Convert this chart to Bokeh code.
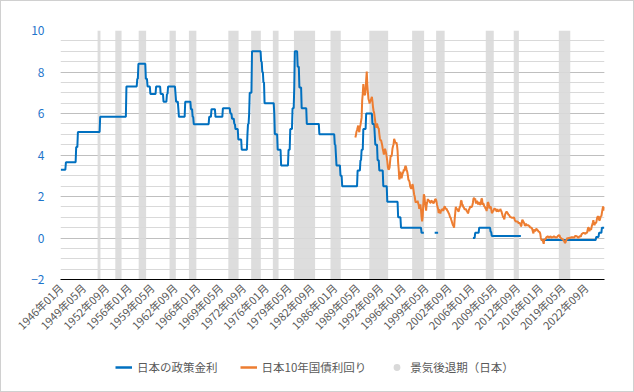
import math
import numpy as np
from bokeh.plotting import figure
from bokeh.layouts import column
from bokeh.models import Range1d, FixedTicker, Legend, LegendItem
from bokeh.embed import file_html
from bokeh.resources import INLINE

FONT = "Noto Sans CJK JP"

# ---- categories (monthly, 1946-01 .. 2025-05) ----
first_year, last_year, last_month = 1946, 2025, 5
months = [f"{y}年{m:02d}月" for y in range(first_year, last_year + 1) for m in range(1, 13)]
months = months[: months.index(f"{last_year}年{last_month:02d}月") + 1]

tick_step = 40  # one label every 40 months

series_names = ["日本の政策金利", "日本10年国債利回り", "景気後退期（日本）"]

# ---- 日本の政策金利: change points (None = no value / gap) ----
policy_change_month = [
    "1946-01", "1946-10", "1948-04", "1948-07", "1951-10", "1955-08", "1957-03", "1957-05",
    "1958-06", "1958-09", "1959-02", "1959-12", "1960-08", "1961-01", "1961-07", "1961-09",
    "1962-10", "1962-11", "1963-03", "1963-04", "1964-03", "1965-01", "1965-04", "1965-06",
    "1967-09", "1968-01", "1968-08", "1969-09", "1970-10", "1971-01", "1971-05", "1971-07",
    "1971-12", "1972-06", "1973-04", "1973-05", "1973-07", "1973-08", "1973-12", "1975-04",
    "1975-06", "1975-08", "1975-10", "1977-03", "1977-04", "1977-09", "1978-03", "1979-04",
    "1979-07", "1979-11", "1980-02", "1980-03", "1980-08", "1980-11", "1981-03", "1981-12",
    "1983-10", "1986-01", "1986-03", "1986-04", "1986-11", "1987-02", "1989-05", "1989-10",
    "1989-12", "1990-03", "1990-08", "1991-07", "1991-11", "1991-12", "1992-04", "1992-07",
    "1993-02", "1993-09", "1995-04", "1995-09", "1998-09", "1999-02", "2000-08", "2001-03",
    "2006-03", "2006-07", "2007-02", "2008-10", "2008-12", "2013-04", "2016-02", "2024-03",
    "2024-08", "2025-01",
]
policy_change_value = [
    3.29, 3.65, 4.38, 5.11, 5.84, 7.30, 7.67, 8.40,
    7.67, 7.30, 6.94, 7.30, 6.94, 6.57, 6.94, 7.30,
    6.94, 6.57, 6.21, 5.84, 6.57, 6.21, 5.84, 5.48,
    5.84, 6.21, 5.84, 6.25, 6.00, 5.75, 5.50, 5.25,
    4.75, 4.25, 5.00, 5.50, 6.00, 7.00, 9.00, 8.50,
    8.00, 7.50, 6.50, 6.00, 5.00, 4.25, 3.50, 4.25,
    5.25, 6.25, 7.25, 9.00, 8.25, 7.25, 6.25, 5.50,
    5.00, 4.50, 4.00, 3.50, 3.00, 2.50, 3.25, 3.75,
    4.25, 5.25, 6.00, 5.50, 5.00, 4.50, 3.75, 3.25,
    2.50, 1.75, 1.00, 0.50, 0.25, None, 0.25, None,
    0.00, 0.25, 0.50, 0.30, 0.10, None, -0.10, 0.05,
    0.25, 0.50,
]

# ---- 日本10年国債利回り: monthly from 1989-01 ----
jgb_start = "1989-01"
jgb10y = [
    4.84, 4.95, 5.12, 5.20, 5.31, 5.42, 5.18, 5.10, 5.33, 5.45, 5.62, 5.80,   # 1989
    6.62, 6.95, 7.42, 7.12, 6.92, 6.88, 7.15, 7.62, 8.02, 7.40, 7.02, 6.70,   # 1990
    6.62, 6.48, 6.60, 6.62, 6.72, 6.80, 6.58, 6.30, 6.12, 6.02, 5.80, 5.58,   # 1991
    5.32, 5.42, 5.52, 5.40, 5.30, 5.28, 5.02, 4.80, 4.70, 4.72, 4.60, 4.48,   # 1992
    4.30, 4.18, 4.02, 4.12, 4.30, 4.20, 4.08, 3.90, 3.70, 3.42, 3.30, 3.32,   # 1993
    3.40, 3.72, 4.00, 3.92, 4.02, 4.30, 4.42, 4.52, 4.78, 4.70, 4.60, 4.58,   # 1994
    4.60, 4.48, 4.20, 3.62, 3.30, 2.82, 2.92, 3.20, 3.00, 2.88, 3.02, 3.12,   # 1995
    3.18, 3.30, 3.22, 3.40, 3.48, 3.40, 3.28, 3.18, 3.02, 2.80, 2.78, 2.70,   # 1996
    2.50, 2.42, 2.38, 2.42, 2.60, 2.50, 2.30, 2.10, 2.00, 1.80, 1.70, 1.78,   # 1997
    1.70, 1.80, 1.68, 1.60, 1.40, 1.50, 1.62, 1.38, 1.02, 0.80, 1.02, 1.62,   # 1998
    2.10, 2.02, 1.72, 1.52, 1.32, 1.62, 1.72, 1.88, 1.80, 1.82, 1.78, 1.70,   # 1999
    1.70, 1.80, 1.78, 1.76, 1.70, 1.68, 1.72, 1.80, 1.88, 1.86, 1.78, 1.62,   # 2000
    1.50, 1.40, 1.20, 1.38, 1.30, 1.18, 1.32, 1.30, 1.40, 1.38, 1.30, 1.40,   # 2001
    1.50, 1.52, 1.42, 1.40, 1.40, 1.32, 1.30, 1.22, 1.18, 1.10, 1.00, 0.98,   # 2002
    0.88, 0.80, 0.70, 0.62, 0.58, 0.50, 0.90, 1.20, 1.50, 1.40, 1.40, 1.38,   # 2003
    1.30, 1.28, 1.40, 1.50, 1.52, 1.78, 1.80, 1.62, 1.60, 1.50, 1.48, 1.40,   # 2004
    1.38, 1.40, 1.38, 1.30, 1.28, 1.20, 1.22, 1.38, 1.40, 1.50, 1.52, 1.50,   # 2005
    1.50, 1.58, 1.70, 1.90, 1.92, 1.88, 1.90, 1.70, 1.68, 1.80, 1.70, 1.62,   # 2006
    1.70, 1.72, 1.60, 1.62, 1.70, 1.90, 1.88, 1.60, 1.68, 1.62, 1.50, 1.52,   # 2007
    1.42, 1.40, 1.30, 1.50, 1.72, 1.70, 1.58, 1.42, 1.50, 1.52, 1.40, 1.22,   # 2008
    1.22, 1.30, 1.30, 1.40, 1.42, 1.40, 1.38, 1.30, 1.28, 1.40, 1.30, 1.28,   # 2009
    1.32, 1.30, 1.40, 1.32, 1.28, 1.18, 1.08, 1.00, 0.98, 0.90, 1.08, 1.18,   # 2010
    1.22, 1.28, 1.20, 1.22, 1.12, 1.12, 1.08, 1.02, 1.00, 1.00, 0.98, 0.98,   # 2011
    0.98, 0.98, 1.00, 0.90, 0.82, 0.82, 0.78, 0.80, 0.78, 0.78, 0.70, 0.72,   # 2012
    0.72, 0.68, 0.56, 0.60, 0.82, 0.88, 0.80, 0.76, 0.70, 0.60, 0.60, 0.70,   # 2013
    0.62, 0.60, 0.62, 0.62, 0.58, 0.58, 0.52, 0.50, 0.52, 0.48, 0.42, 0.32,   # 2014
    0.22, 0.38, 0.40, 0.32, 0.40, 0.44, 0.42, 0.38, 0.36, 0.30, 0.30, 0.28,   # 2015
    0.20, 0.00, -0.08, -0.10, -0.10, -0.18, -0.28, -0.08, -0.06, -0.06, 0.00, 0.04,  # 2016
    0.06, 0.08, 0.06, 0.02, 0.04, 0.06, 0.08, 0.04, 0.02, 0.06, 0.04, 0.06,   # 2017
    0.08, 0.06, 0.04, 0.04, 0.04, 0.04, 0.06, 0.10, 0.12, 0.14, 0.10, 0.02,   # 2018
    0.00, -0.02, -0.06, -0.04, -0.08, -0.14, -0.14, -0.24, -0.22, -0.14, -0.08, -0.02,  # 2019
    0.00, -0.04, 0.02, 0.00, 0.00, 0.02, 0.02, 0.04, 0.02, 0.04, 0.02, 0.02,   # 2020
    0.04, 0.10, 0.10, 0.08, 0.08, 0.06, 0.02, 0.02, 0.06, 0.08, 0.08, 0.06,   # 2021
    0.16, 0.20, 0.22, 0.24, 0.24, 0.24, 0.22, 0.20, 0.24, 0.25, 0.25, 0.40,   # 2022
    0.50, 0.50, 0.32, 0.46, 0.42, 0.40, 0.54, 0.64, 0.74, 0.86, 0.70, 0.62,   # 2023
    0.72, 0.72, 0.74, 0.88, 1.02, 1.02, 1.04, 0.88, 0.84, 0.94, 1.06, 1.04,   # 2024
    1.22, 1.38, 1.52, 1.32, 1.50,                                             # 2025
]

# ---- 景気後退期（日本） ----
recession_start = ["1951-06", "1954-01", "1957-06", "1961-12", "1964-10", "1970-07", "1973-11",
                   "1977-01", "1980-02", "1985-06", "1991-02", "1997-05", "2000-11", "2008-02",
                   "2012-03", "2018-10"]
recession_end = ["1951-10", "1954-11", "1958-06", "1962-10", "1965-10", "1971-12", "1975-03",
                 "1977-10", "1983-02", "1986-11", "1993-10", "1999-01", "2002-01", "2009-03",
                 "2012-11", "2020-05"]

BLUE, ORANGE, BAND = "#0070C0", "#ED7D31", "#D9D9D9"


def midx(s):
    y, m = s.split("-")
    return (int(y) - first_year) * 12 + int(m) - 1


n = len(months)
x = np.arange(n)

# policy rate monthly series from its change points
policy = np.full(n, np.nan)
cp = [midx(s) for s in policy_change_month]
for i, (start, val) in enumerate(zip(cp, policy_change_value)):
    stop = cp[i + 1] if i + 1 < len(cp) else n
    if val is not None:
        policy[start:stop] = val

j0 = midx(jgb_start)
jx = np.arange(j0, j0 + len(jgb10y))

rs = np.array([midx(s) for s in recession_start])
re_ = np.array([midx(s) for s in recession_end])

# ---------------- main chart ----------------
p = figure(width=632, height=346, output_backend="svg", toolbar_location=None,
           x_range=Range1d(-0.5, n - 0.5), y_range=Range1d(-2, 10),
           min_border_left=59, min_border_right=29, min_border_top=29, min_border_bottom=68,
           outline_line_color=None, background_fill_color="white", border_fill_color="white")

p.quad(left=rs - 0.5, right=re_ + 0.5, bottom=-2, top=10,
       fill_color=BAND, fill_alpha=0.9, line_color=None)
p.line(x, policy, line_color=BLUE, line_width=2)
p.line(jx, jgb10y, line_color=ORANGE, line_width=2)

# y axis
yt = [-2, 0, 2, 4, 6, 8, 10]
p.yaxis.ticker = FixedTicker(ticks=yt)
p.ygrid.ticker = FixedTicker(ticks=yt, minor_ticks=list(np.arange(-2, 10.01, 0.5)))
p.ygrid.grid_line_color = "#BFBFBF"
p.ygrid.minor_grid_line_color = "#D9D9D9"
p.xgrid.grid_line_color = None
p.yaxis.axis_line_color = None
p.yaxis.major_tick_line_color = None
p.yaxis.minor_tick_line_color = None
p.yaxis.major_tick_out = 0
p.yaxis.major_label_standoff = 16
p.yaxis.major_label_text_color = "#1F75CB"
p.yaxis.major_label_text_font = FONT
p.yaxis.major_label_text_font_size = "12px"

# x axis
ticks = list(range(0, n, tick_step))
p.xaxis.ticker = FixedTicker(ticks=ticks)
p.xaxis.major_label_overrides = {t: months[t] for t in ticks}
p.xaxis.major_label_orientation = math.pi / 4
p.xaxis.axis_line_color = "#000000"
p.xaxis.axis_line_width = 1
p.xaxis.major_tick_line_color = None
p.xaxis.minor_tick_line_color = None
p.xaxis.major_tick_out = 0
p.xaxis.major_label_standoff = 6
p.xaxis.major_label_text_color = "#595959"
p.xaxis.major_label_text_font = FONT
p.xaxis.major_label_text_font_size = "11px"

# ---------------- legend strip ----------------
lg = figure(width=632, height=44, output_backend="svg", toolbar_location=None,
            x_range=Range1d(0, 1), y_range=Range1d(0, 1),
            x_axis_type=None, y_axis_type=None,
            min_border_left=0, min_border_right=0, min_border_top=0, min_border_bottom=0,
            outline_line_color=None, background_fill_color="white", border_fill_color="white")
lg.xgrid.visible = False
lg.ygrid.visible = False
# legend-only renderers: their single point lies outside the visible range
r1 = lg.line(x=[-5, -4], y=[-5, -5], line_color=BLUE, line_width=2.5)
r2 = lg.line(x=[-5, -4], y=[-5, -5], line_color=ORANGE, line_width=2.5)
r3 = lg.scatter(x=[-5], y=[-5], marker="circle", size=8, fill_color=BAND, line_color=None)

legend = Legend(items=[
    LegendItem(label=series_names[0], renderers=[r1]),
    LegendItem(label=series_names[1], renderers=[r2]),
    LegendItem(label=series_names[2], renderers=[r3]),
], orientation="horizontal", location=(55, 14), padding=0, margin=0, spacing=22,
    glyph_width=17, glyph_height=20, label_standoff=5,
    label_text_font=FONT, label_text_font_size="11.5px", label_text_color="#595959",
    border_line_color=None, background_fill_alpha=0)
lg.add_layout(legend, "center")

layout = column(p, lg, spacing=0, styles={"border": "1px solid #D0D0D0"})
open("out.html", "w").write(file_html(layout, INLINE))
